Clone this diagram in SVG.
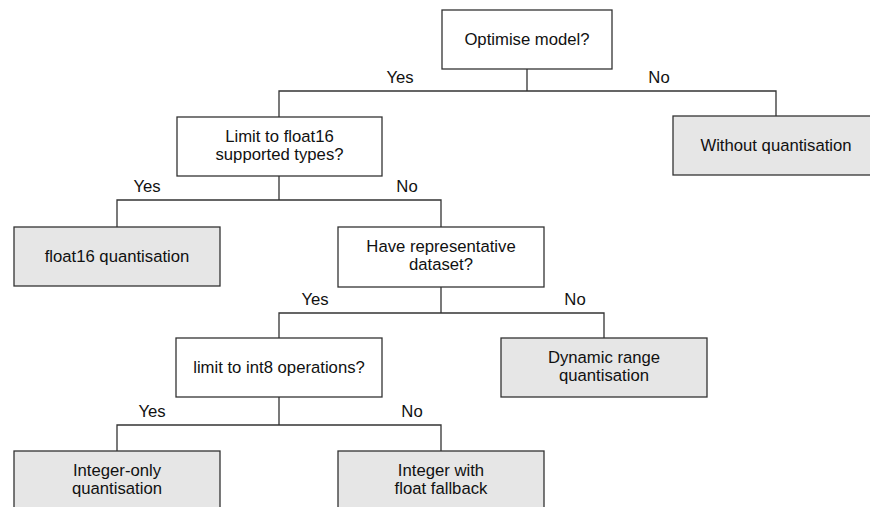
<svg xmlns="http://www.w3.org/2000/svg" width="870" height="507" viewBox="0 0 870 507">
  <style>
    .box { fill: #ffffff; stroke: #333333; stroke-width: 1.3; }
    .leaf { fill: #e6e6e6; stroke: #333333; stroke-width: 1.3; }
    .conn { fill: none; stroke: #333333; stroke-width: 1.3; }
    text { font-family: "Liberation Sans", Arial, sans-serif; font-size: 16.7px; fill: #111111; text-anchor: middle; }
  </style>
  <rect width="870" height="507" fill="#ffffff"/>

  <!-- connectors -->
  <g id="connectors">
    <path class="conn" d="M527,69 V91 M279,117 V91 H776 V116"/>
    <path class="conn" d="M279,176 V200 M117,227 V200 H441 V227"/>
    <path class="conn" d="M441,287 V313 M279,338 V313 H604 V338"/>
    <path class="conn" d="M279,397 V425 M117,451 V425 H441 V451"/>
  </g>

  <!-- branch labels -->
  <g id="labels">
    <text x="400" y="83">Yes</text>
    <text x="659" y="83">No</text>
    <text x="147" y="192">Yes</text>
    <text x="407" y="192">No</text>
    <text x="315" y="305">Yes</text>
    <text x="575" y="305">No</text>
    <text x="152" y="417">Yes</text>
    <text x="412" y="417">No</text>
  </g>

  <g id="optimise">
    <rect class="box" x="442" y="10" width="170" height="59"/>
    <text x="527" y="45">Optimise model?</text>
  </g>

  <g id="limit-float16">
    <rect class="box" x="177" y="117" width="205" height="59"/>
    <text x="279.5" y="142">Limit to float16</text>
    <text x="279.5" y="160">supported types?</text>
  </g>

  <g id="without-quant">
    <rect class="leaf" x="673" y="116" width="206" height="59"/>
    <text x="776" y="151">Without quantisation</text>
  </g>

  <g id="float16-quant">
    <rect class="leaf" x="14" y="227" width="206" height="59"/>
    <text x="117" y="262">float16 quantisation</text>
  </g>

  <g id="rep-dataset">
    <rect class="box" x="338" y="227" width="206" height="60"/>
    <text x="441" y="252">Have representative</text>
    <text x="441" y="270">dataset?</text>
  </g>

  <g id="limit-int8">
    <rect class="box" x="176" y="338" width="206" height="59"/>
    <text x="279" y="373">limit to int8 operations?</text>
  </g>

  <g id="dynamic-range">
    <rect class="leaf" x="501" y="338" width="206" height="59"/>
    <text x="604" y="363">Dynamic range</text>
    <text x="604" y="381">quantisation</text>
  </g>

  <g id="integer-only">
    <rect class="leaf" x="14" y="451" width="206" height="59"/>
    <text x="117" y="476">Integer-only</text>
    <text x="117" y="494">quantisation</text>
  </g>

  <g id="integer-fallback">
    <rect class="leaf" x="338" y="451" width="206" height="59"/>
    <text x="441" y="476">Integer with</text>
    <text x="441" y="494">float fallback</text>
  </g>
</svg>
